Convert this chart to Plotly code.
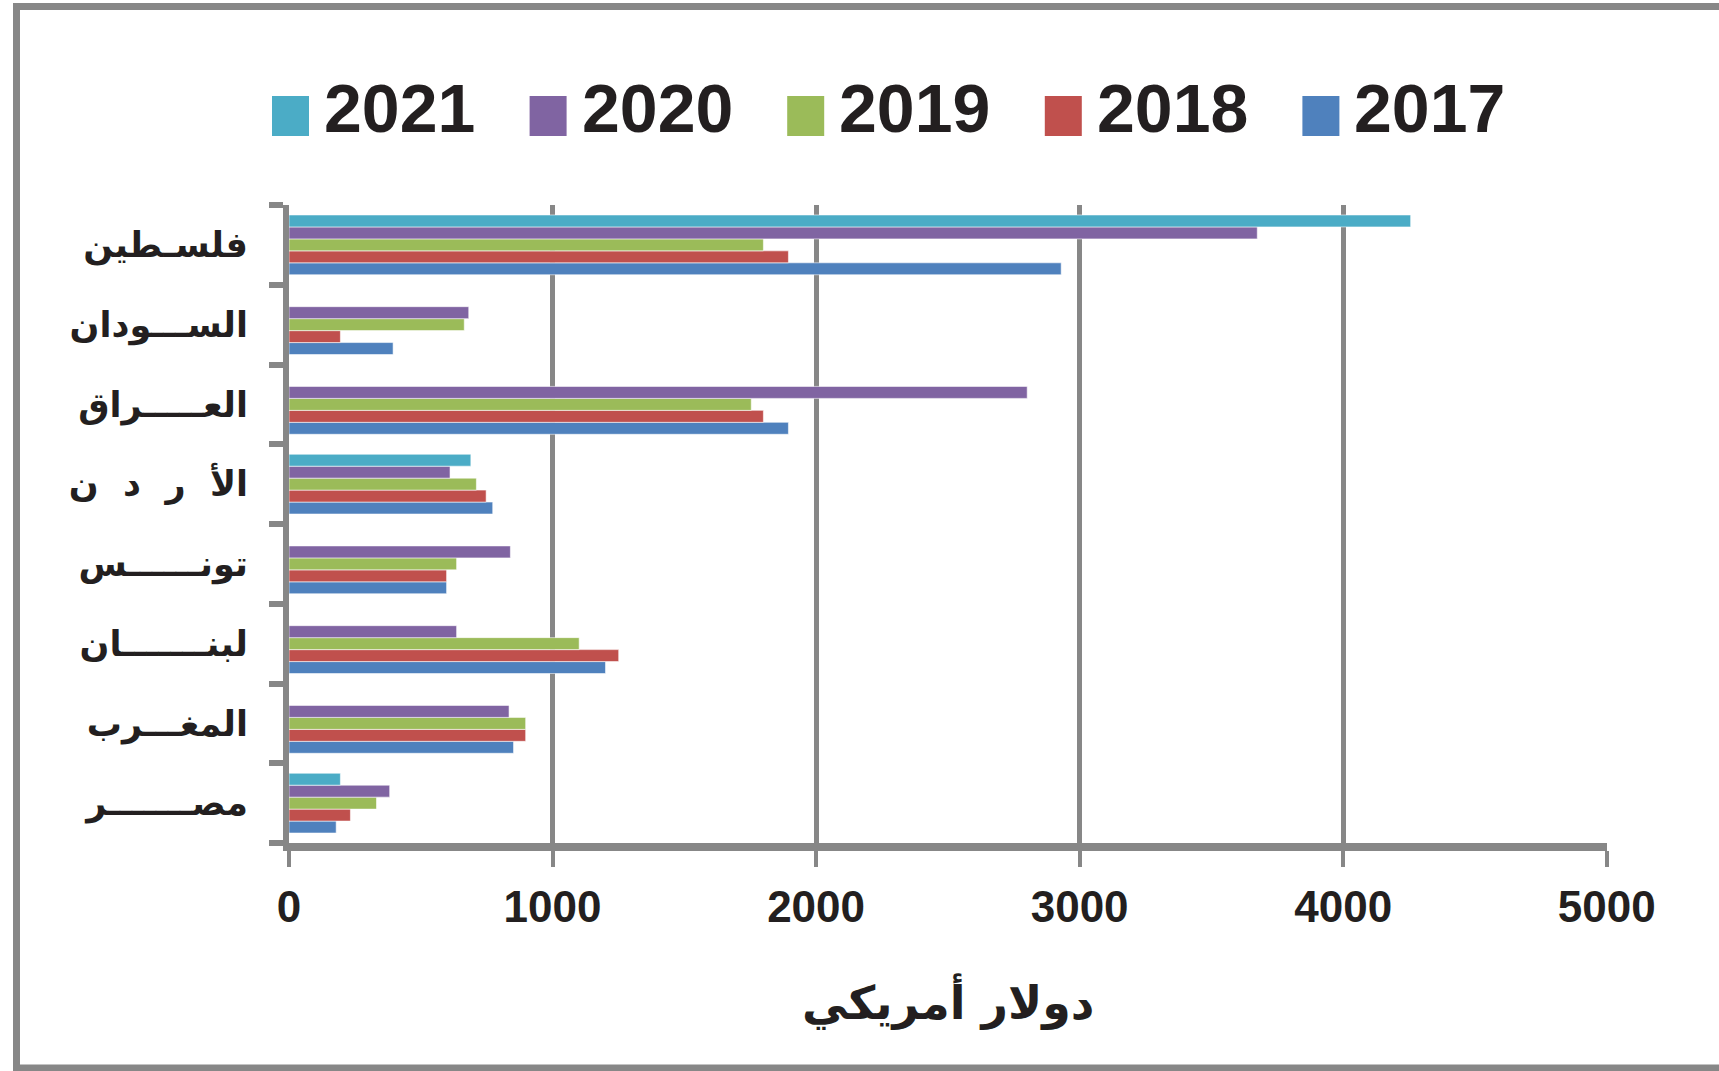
import plotly.graph_objects as go

# countries, bottom to top as drawn
countries = ["مصـــــــر", "المغـــرب", "لبنـــــــان", "تونــــــس",
             "الأ  ر  د  ن", "العـــــراق", "الســـودان", "فلسـطين"]

years = ["2017", "2018", "2019", "2020", "2021"]
colors = ["#4F81BD", "#C0504D", "#9BBB59", "#8064A2", "#4BACC6"]

v2017 = [179, 852, 1201, 598, 773, 1895, 395, 2930]
v2018 = [233, 898, 1251, 598, 748, 1800, 195, 1895]
v2019 = [332, 898, 1101, 636, 711, 1754, 665, 1800]
v2020 = [382, 835, 636, 840, 611, 2801, 682, 3674]
v2021 = [195, None, None, None, 690, None, None, 4256]

series = [v2017, v2018, v2019, v2020, v2021]

GREY = "#878787"
SANS = "Liberation Sans, Arial, sans-serif"
ARABIC = "DejaVu Sans, Noto Sans, sans-serif"

# plot area in pixels
L, R, T, B = 289, 1607, 205, 843


def px_x(x):
    return (x - L) / (R - L)


def px_y(y):
    return (B - y) / (B - T)


fig = go.Figure()
for yr, col, vals in zip(years, colors, series):
    fig.add_trace(go.Bar(
        y=countries, x=vals, name=yr, orientation="h",
        marker=dict(color=col, line=dict(color="rgba(255,255,255,0.7)", width=0.8)),
        showlegend=False,
    ))

# hand-made legend, big squares like the original (2021 first)
shapes = []
annotations = []
for i, (yr, col) in enumerate(zip(years[::-1], colors[::-1])):
    x0 = 272 + i * 257.6
    shapes.append(dict(type="rect", xref="paper", yref="paper",
                       x0=px_x(x0), x1=px_x(x0 + 37), y0=px_y(136), y1=px_y(96),
                       fillcolor=col, line=dict(width=0)))
    annotations.append(dict(text="<b>" + yr + "</b>", xref="paper", yref="paper",
                            x=px_x(x0 + 50), y=px_y(108), xanchor="left", yanchor="middle",
                            showarrow=False, font=dict(family=SANS, size=68, color="#231F20")))

# outer frame (right side is cut off in the original)
shapes.append(dict(type="rect", xref="paper", yref="paper", layer="below",
                   x0=px_x(16.5), x1=px_x(1760), y0=px_y(1068), y1=px_y(6.5),
                   line=dict(color=GREY, width=7), fillcolor="rgba(0,0,0,0)"))

annotations.append(dict(text="<b>دولار أمريكي</b>", xref="paper", yref="paper",
                        x=0.5, y=px_y(1001), xanchor="center", yanchor="middle",
                        showarrow=False, font=dict(family=ARABIC, size=46, color="#231F20")))

fig.update_layout(
    width=1719, height=1071,
    margin=dict(l=L, r=1719 - R, t=T, b=1071 - B),
    barmode="group", bargap=0.25, bargroupgap=0,
    plot_bgcolor="white", paper_bgcolor="white",
    shapes=shapes, annotations=annotations,
)
fig.update_xaxes(
    range=[0, 5001], tickvals=[0, 1000, 2000, 3000, 4000, 5000],
    showgrid=True, gridcolor=GREY, gridwidth=5,
    showline=True, linecolor=GREY, linewidth=8,
    ticks="outside", ticklen=16, tickwidth=4, tickcolor=GREY,
    tickfont=dict(family=SANS, size=44, color="#231F20", weight="bold"),
    ticklabelstandoff=2, zeroline=False, automargin=False,
)
fig.update_yaxes(
    type="category", categoryorder="array", categoryarray=countries,
    tickvals=countries, ticktext=["<b>" + c + "</b>" for c in countries],
    showline=True, linecolor=GREY, linewidth=6,
    ticks="outside", tickson="boundaries", ticklen=14, tickwidth=6, tickcolor=GREY,
    tickfont=dict(family=ARABIC, size=35, color="#231F20"),
    ticklabelstandoff=28, showgrid=False, automargin=False,
)

# drop the page's default body margin so the figure sits at the window's corner
fig.write_html("out.html", config={"displayModeBar": False},
               post_script="document.body.style.margin='0';")
